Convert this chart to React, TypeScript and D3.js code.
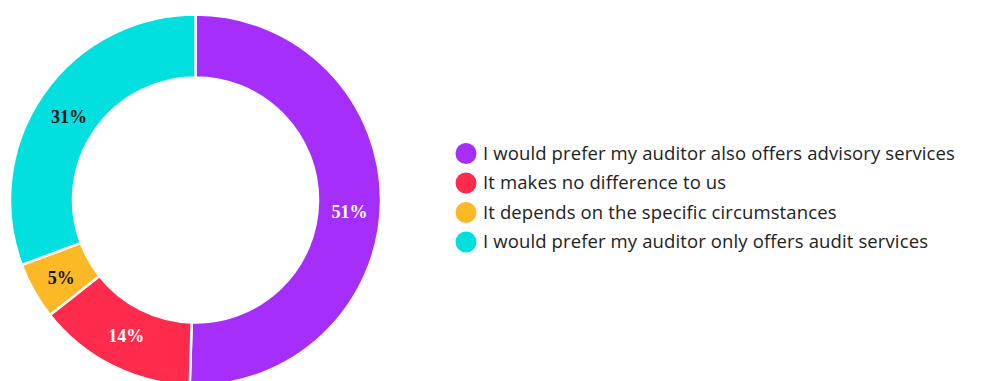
import React from "react";
import * as d3 from "d3";

const categories = [
  "I would prefer my auditor also offers advisory services",
  "It makes no difference to us",
  "It depends on the specific circumstances",
  "I would prefer my auditor only offers audit services",
];
const values = [51, 14, 5, 31];
const labels = ["51%", "14%", "5%", "31%"];
const colors = ["#a52efb", "#ff2b4c", "#fdb925", "#02dfdf"];
const labelColors = ["#ffffff", "#ffffff", "#111111", "#111111"];

const W = 983;
const H = 381;
const cx = 195.5;
const cy = 200;
const outerR = 185.5;
const innerR = 122.5;
const labelDy = [10, -2, 2, 5];

export default function App() {
  const pie = d3.pie<number>().sort(null).value((d) => d);
  const arcs = pie(values);
  const arc = d3.arc<d3.PieArcDatum<number>>().innerRadius(innerR).outerRadius(outerR);
  const labelArc = d3.arc<d3.PieArcDatum<number>>().innerRadius(154).outerRadius(154);

  const legendX = 466;
  const legendY = d3.scalePoint<number>().domain(d3.range(categories.length)).range([153.5, 242]);

  return (
    <svg
      width={W}
      height={H}
      style={{ position: "absolute", left: 0, top: 0, background: "#fff" }}
    >
      <g transform={`translate(${cx},${cy})`}>
        {arcs.map((a, i) => (
          <path key={i} d={arc(a) || ""} fill={colors[i]} stroke="#ffffff" strokeWidth={2.5} />
        ))}
        {arcs.map((a, i) => {
          const [x, y] = labelArc.centroid(a);
          return (
            <text
              key={i}
              x={x}
              y={y}
              dy={labelDy[i]}
              textAnchor="middle"
              dominantBaseline="central"
              fill={labelColors[i]}
              style={{ fontFamily: "'Liberation Serif', serif", fontWeight: "bold", fontSize: 18 }}
            >
              {labels[i]}
            </text>
          );
        })}
      </g>
      <g>
        {categories.map((c, i) => (
          <g key={i} transform={`translate(${legendX},${legendY(i)})`}>
            <circle r={10.5} fill={colors[i]} />
            <text
              x={17}
              dy="0.35em"
              fill="#222"
              style={{ fontFamily: "'Open Sans', sans-serif", fontSize: 18.5, letterSpacing: 0.12 }}
            >
              {c}
            </text>
          </g>
        ))}
      </g>
    </svg>
  );
}
